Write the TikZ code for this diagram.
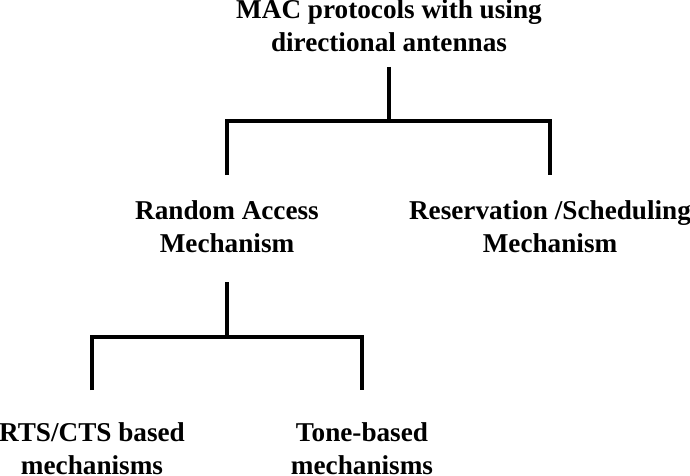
\documentclass[tikz,border=0pt]{standalone}
\usepackage{fontspec}
\setmainfont{Liberation Serif}
\usetikzlibrary{positioning,calc}
\tikzset{
  cat/.style={inner sep=0pt, align=center,
    font=\bfseries\fontsize{13.6}{16.5}\selectfont},
  branch/.style={line width=2pt, line join=miter}
}

\begin{document}
\begin{tikzpicture}[x=0.5pt, y=-0.5pt]
  \useasboundingbox (0,0) rectangle (690,476);
  % categories
  \node[cat] (mac) at (389,26) {MAC protocols with using\\directional antennas};
  \node[cat] (ra) at (227,227) {Random Access\\Mechanism};
  \node[cat] (rs) at (550,227) {Reservation /Scheduling\\Mechanism};
  \node[cat] (rts) at (92,449) {RTS/CTS based\\mechanisms};
  \node[cat] (tone) at (362,449) {Tone-based\\mechanisms};

  % junction points
  \coordinate (mac-out) at (mac.center |- 0,67);
  \coordinate (j1) at (mac.center |- 0,121);
  \coordinate (ra-in) at (ra.center |- 0,175);
  \coordinate (rs-in) at (rs.center |- 0,175);
  \coordinate (ra-out) at (ra.center |- 0,282);
  \coordinate (j2) at (ra.center |- 0,337);
  \coordinate (rts-in) at (rts.center |- 0,390);
  \coordinate (tone-in) at (tone.center |- 0,390);

  % tree lines
  \draw[branch] (mac-out) -- (j1);
  \draw[branch] (ra-in) |- (j1) -| (rs-in);
  \draw[branch] (ra-out) -- (j2);
  \draw[branch] (rts-in) |- (j2) -| (tone-in);
\end{tikzpicture}
\end{document}
